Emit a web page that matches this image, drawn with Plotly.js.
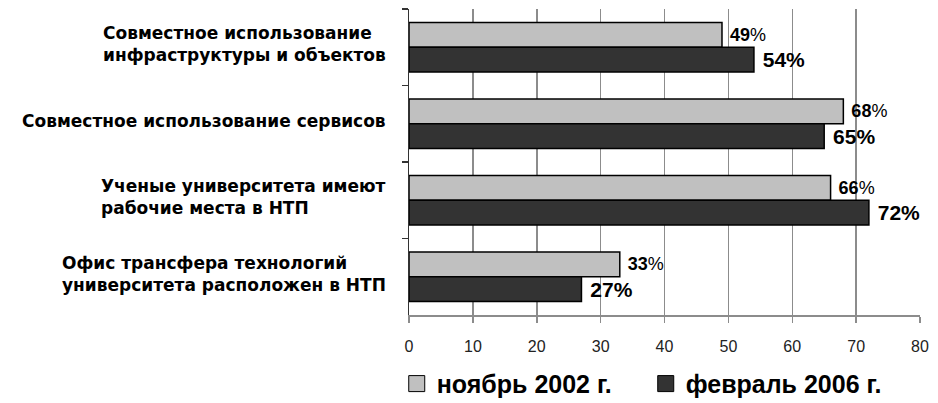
<!DOCTYPE html>
<html>
<head>
    <meta charset="utf-8">
    <title>Horizontal Bar Chart</title>
    <style>
        html, body, #plot {
            height: 100%;
            width: 100%;
            margin: 0;
            padding: 0;
            overflow: hidden;
            background: #ffffff;
        }
    </style>
    <script src="https://cdn.plot.ly/plotly-3.0.1.min.js"></script>
</head>

<body>
<div id="plot"></div>
<script>
    // categories, top to bottom
    const categories = [
        'Совместное использование<br>инфраструктуры и объектов',
        'Совместное использование сервисов',
        'Ученые университета имеют<br>рабочие места в НТП',
        'Офис трансфера технологий<br>университета расположен в НТП'
    ];
    const catKeys = ['c1', 'c2', 'c3', 'c4'];
    const nov2002 = [49, 68, 66, 33];
    const feb2006 = [54, 65, 72, 27];
    const seriesNames = ['ноябрь 2002 г.', 'февраль 2006 г.'];
    const seriesColors = ['#c0c0c0', '#333333'];
    const xTicks = [0, 10, 20, 30, 40, 50, 60, 70, 80];

    function createPlot() {
        const traceNov = {
            y: catKeys,
            x: nov2002,
            name: seriesNames[0],
            type: 'bar',
            orientation: 'h',
            showlegend: false,
            marker: {
                color: seriesColors[0],
                line: {color: '#000000', width: 1.5}
            },
            texttemplate: ' <b>%{x}</b>%',
            textposition: 'outside',
            constraintext: 'none',
            cliponaxis: false,
            textfont: {family: 'Liberation Sans, Arial, sans-serif', size: 18, color: '#000000'},
            hoverinfo: 'x'
        };

        const traceFeb = {
            y: catKeys,
            x: feb2006,
            name: seriesNames[1],
            type: 'bar',
            orientation: 'h',
            showlegend: false,
            marker: {
                color: seriesColors[1],
                line: {color: '#000000', width: 1.5}
            },
            texttemplate: ' %{x}%',
            textposition: 'outside',
            constraintext: 'none',
            cliponaxis: false,
            textfont: {family: 'Liberation Sans, Arial, sans-serif', size: 21, color: '#000000', weight: 'bold'},
            hoverinfo: 'x'
        };

        // legend-only entries, so the legend squares can be larger than bar swatches
        const legendTraces = seriesNames.map(function (name, i) {
            return {
                x: [null],
                y: [null],
                name: name,
                type: 'scatter',
                mode: 'markers',
                marker: {
                    symbol: 'square',
                    size: 16,
                    color: seriesColors[i],
                    line: {color: '#000000', width: 1}
                },
                hoverinfo: 'skip'
            };
        });

        // category labels: left-aligned text blocks, right edge near the axis
        const labelNotes = catKeys.map(function (key, i) {
            return {
                x: 0,
                xref: 'paper',
                y: key,
                yref: 'y',
                xanchor: 'right',
                yanchor: 'middle',
                xshift: -21,
                yshift: 3,
                align: 'left',
                showarrow: false,
                text: categories[i],
                font: {family: 'DejaVu Sans, sans-serif', size: 17, color: '#000000', weight: 'bold'}
            };
        });

        const layout = {
            width: 938,
            height: 403,
            barmode: 'group',
            bargap: 0.35,
            bargroupgap: 0,
            showlegend: true,
            paper_bgcolor: '#ffffff',
            plot_bgcolor: '#ffffff',
            margin: {
                l: 409,
                r: 18,
                t: 9,
                b: 88,
                pad: 0,
                autoexpand: false
            },
            xaxis: {
                range: [0, 80],
                tickvals: xTicks,
                ticktext: xTicks.map(String),
                showgrid: true,
                gridcolor: '#8c8c8c',
                gridwidth: 1.5,
                zeroline: false,
                showline: true,
                linecolor: '#8c8c8c',
                linewidth: 1.5,
                ticks: 'outside',
                ticklen: 6,
                tickcolor: '#8c8c8c',
                tickwidth: 1.5,
                ticklabelstandoff: 10,
                tickfont: {family: 'Liberation Sans, Arial, sans-serif', size: 16, color: '#222222'},
                fixedrange: true
            },
            yaxis: {
                autorange: 'reversed',
                type: 'category',
                showticklabels: false,
                showgrid: false,
                zeroline: false,
                showline: true,
                linecolor: '#333333',
                linewidth: 1.5,
                ticks: 'outside',
                tickson: 'boundaries',
                ticklen: 6,
                tickcolor: '#333333',
                tickwidth: 1.5,
                fixedrange: true
            },
            legend: {
                orientation: 'h',
                x: -0.024,
                y: -0.225,
                xanchor: 'left',
                yanchor: 'middle',
                entrywidth: 204,
                entrywidthmode: 'pixels',
                itemsizing: 'trace',
                font: {family: 'Liberation Sans, Arial, sans-serif', size: 25, color: '#000000', weight: 'bold'},
                bgcolor: 'rgba(0,0,0,0)'
            },
            annotations: labelNotes,
            hovermode: 'closest'
        };

        const config = {
            displayModeBar: false,
            staticPlot: true
        };

        Plotly.newPlot('plot', [traceNov, traceFeb].concat(legendTraces), layout, config);
    }

    document.addEventListener('DOMContentLoaded', function () {
        createPlot();
    });
</script>
</body>
</html>
